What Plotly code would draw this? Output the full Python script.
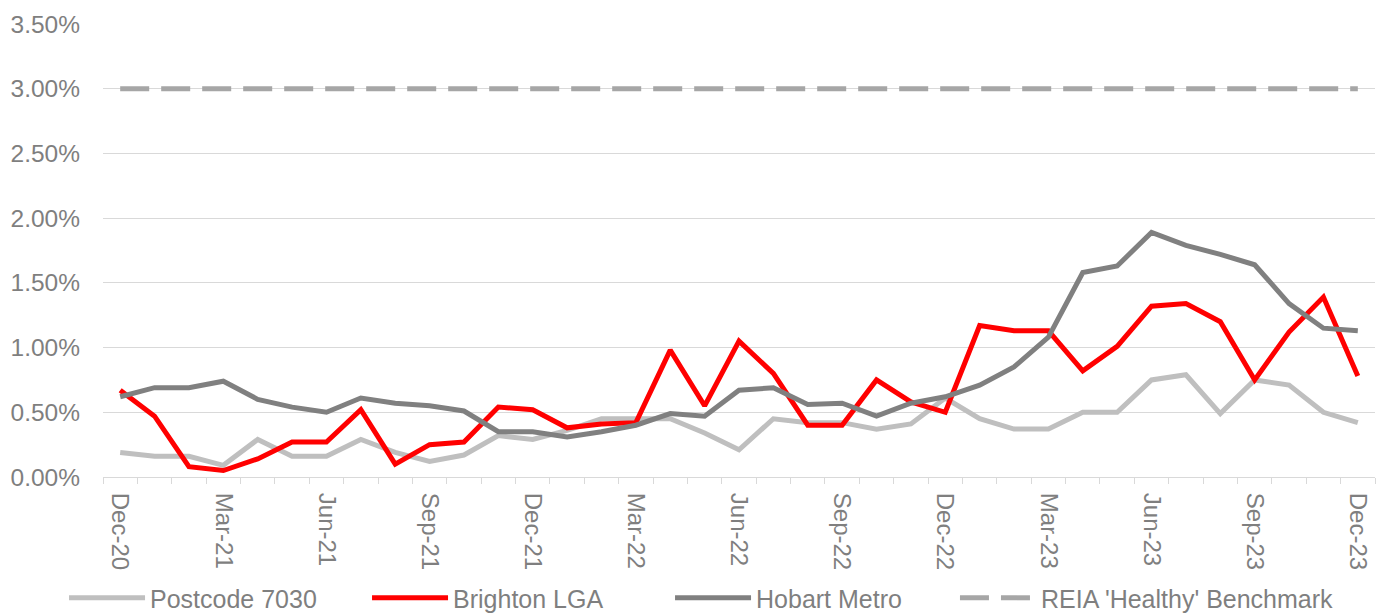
import plotly.graph_objects as go

months = ["Dec-20", "Jan-21", "Feb-21", "Mar-21", "Apr-21", "May-21", "Jun-21", "Jul-21", "Aug-21",
          "Sep-21", "Oct-21", "Nov-21", "Dec-21", "Jan-22", "Feb-22", "Mar-22", "Apr-22", "May-22",
          "Jun-22", "Jul-22", "Aug-22", "Sep-22", "Oct-22", "Nov-22", "Dec-22", "Jan-23", "Feb-23",
          "Mar-23", "Apr-23", "May-23", "Jun-23", "Jul-23", "Aug-23", "Sep-23", "Oct-23", "Nov-23",
          "Dec-23"]

postcode_7030 = [0.19, 0.16, 0.16, 0.09, 0.29, 0.16, 0.16, 0.29, 0.19, 0.12, 0.17, 0.32, 0.29,
                 0.36, 0.45, 0.45, 0.45, 0.34, 0.21, 0.45, 0.42, 0.42, 0.37, 0.41, 0.61, 0.45,
                 0.37, 0.37, 0.50, 0.50, 0.75, 0.79, 0.49, 0.75, 0.71, 0.50, 0.42]

brighton_lga = [0.67, 0.47, 0.08, 0.05, 0.14, 0.27, 0.27, 0.52, 0.10, 0.25, 0.27, 0.54, 0.52,
                0.38, 0.41, 0.42, 0.98, 0.55, 1.05, 0.80, 0.40, 0.40, 0.75, 0.58, 0.50, 1.17,
                1.13, 1.13, 0.82, 1.01, 1.32, 1.34, 1.20, 0.75, 1.12, 1.39, 0.78]

hobart_metro = [0.62, 0.69, 0.69, 0.74, 0.60, 0.54, 0.50, 0.61, 0.57, 0.55, 0.51, 0.35, 0.35,
                0.31, 0.35, 0.40, 0.49, 0.47, 0.67, 0.69, 0.56, 0.57, 0.47, 0.57, 0.62, 0.71,
                0.85, 1.08, 1.58, 1.63, 1.89, 1.79, 1.72, 1.64, 1.34, 1.15, 1.13]

benchmark = [3.00] * len(months)

y_ticks = [0, 0.5, 1.0, 1.5, 2.0, 2.5, 3.0, 3.5]
y_tick_labels = [f"{v:.2f}%" for v in y_ticks]

FONT = "Liberation Sans, Arial, sans-serif"
TXT = "#7f7f7f"

fig = go.Figure()
fig.add_trace(go.Scatter(x=months, y=postcode_7030, name="Postcode 7030", mode="lines",
                         line=dict(color="#bfbfbf", width=5), legend="legend"))
fig.add_trace(go.Scatter(x=months, y=brighton_lga, name="Brighton LGA", mode="lines",
                         line=dict(color="#ff0000", width=5), legend="legend"))
fig.add_trace(go.Scatter(x=months, y=hobart_metro, name="Hobart Metro", mode="lines",
                         line=dict(color="#808080", width=5), legend="legend"))
fig.add_trace(go.Scatter(x=months, y=benchmark, name="REIA 'Healthy' Benchmark", mode="lines",
                         line=dict(color="#a6a6a6", width=5, dash="29px,12px"), legend="legend2"))

legend_common = dict(orientation="h", xanchor="left", yref="container", y=0.026,
                     yanchor="middle", xref="container", bgcolor="rgba(0,0,0,0)",
                     font=dict(family=FONT, size=25, color=TXT), itemwidth=76,
                     tracegroupgap=0)

fig.update_layout(
    width=1383, height=614,
    margin=dict(l=103, r=8, t=24, b=137),
    paper_bgcolor="white", plot_bgcolor="white",
    font=dict(family=FONT, size=24, color=TXT),
    showlegend=True,
    legend=dict(**legend_common, x=0.0463, entrywidth=212, entrywidthmode="pixels"),
    legend2=dict(**legend_common, x=0.6905),
    xaxis=dict(type="category", tickson="boundaries", dtick=1, ticklabelstep=3,
               tickangle=90, ticks="outside", ticklen=6, tickcolor="#d9d9d9",
               showline=True, linecolor="#d9d9d9", linewidth=1, showgrid=False,
               tickfont=dict(family=FONT, size=24, color=TXT), automargin=False,
               ticklabelstandoff=10, ticklabeloverflow="allow",
               range=[-0.5, len(months) - 0.5]),
    yaxis=dict(range=[0, 3.5], tickvals=y_ticks, ticktext=y_tick_labels,
               showgrid=True, gridcolor="#d9d9d9", gridwidth=1, zeroline=False,
               showline=False, ticks="", automargin=False, ticklabelstandoff=22,
               tickfont=dict(family=FONT, size=24.5, color=TXT)),
)

fig.write_html("out.html")
